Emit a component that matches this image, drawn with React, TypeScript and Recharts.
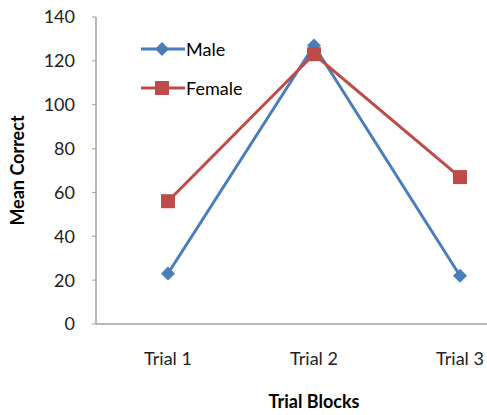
import { LineChart, Line, XAxis, YAxis } from 'recharts';

const categories = ['Trial 1', 'Trial 2', 'Trial 3'];
const maleValues = [23, 127, 22];
const femaleValues = [56, 123, 67];
const yTicks = [0, 20, 40, 60, 80, 100, 120, 140];

const data = categories.map((name, i) => ({ name, male: maleValues[i], female: femaleValues[i] }));

const BLUE = '#4A7EBB';
const RED = '#BE4B48';
const FONT = 'Lato, "Open Sans", sans-serif';

const Diamond = ({ cx, cy, fill }: any) => {
  if (cx == null || cy == null) return null;
  const s = 7;
  return <path d={`M${cx},${cy - s}L${cx + s},${cy}L${cx},${cy + s}L${cx - s},${cy}Z`} fill={fill} />;
};

const Square = ({ cx, cy, fill }: any) => {
  if (cx == null || cy == null) return null;
  const s = 7;
  return <rect x={cx - s} y={cy - s} width={s * 2} height={s * 2} fill={fill} />;
};

// legend drawn as an overlay so it doesn't shrink the plot area
const legendItems = [
  { label: 'Male', color: BLUE, Marker: Diamond, top: 39 },
  { label: 'Female', color: RED, Marker: Square, top: 78 },
];

const LegendBox = () => (
  <>
    {legendItems.map(({ label, color, Marker, top }) => (
      <div key={label} style={{ position: 'absolute', left: 139, top, height: 20, display: 'flex', alignItems: 'center' }}>
        <svg width={47} height={20}>
          <line x1={2} y1={10} x2={46} y2={10} stroke={color} strokeWidth={3} />
          <Marker cx={23} cy={10} fill={color} />
        </svg>
        <span style={{ fontFamily: FONT, fontSize: 18, color: '#000', lineHeight: '20px' }}>{label}</span>
      </div>
    ))}
  </>
);

export default function App() {
  return (
    <div style={{ position: 'fixed', left: 0, top: 0, width: 487, height: 415, overflow: 'hidden', background: '#fff' }}>
      <LineChart width={534} height={415} data={data} margin={{ top: 17, right: 2, left: 0, bottom: 0 }}>
        <XAxis
          dataKey="name"
          height={91}
          padding={{ left: 72, right: 72 }}
          tickLine={false}
          axisLine={{ stroke: '#A0A0A0', strokeWidth: 1.5 }}
          tick={{ fontSize: 18, fill: '#222', fontFamily: FONT }}
          tickMargin={22}
          label={{ value: 'Trial Blocks', position: 'insideBottom', offset: 7, fontSize: 18, fontWeight: 700, fill: '#000', fontFamily: FONT }}
        />
        <YAxis
          width={96}
          domain={[0, 140]}
          ticks={yTicks}
          interval={0}
          tickSize={4}
          tickMargin={17}
          tickLine={{ stroke: '#A0A0A0' }}
          axisLine={{ stroke: '#A0A0A0', strokeWidth: 1.5 }}
          tick={{ fontSize: 18, fill: '#222', fontFamily: FONT }}
          label={{ value: 'Mean Correct', angle: -90, position: 'insideLeft', offset: 18, fontSize: 18, fontWeight: 700, fill: '#000', fontFamily: FONT, style: { textAnchor: 'middle' } }}
        />
        <Line
          dataKey="male"
          stroke={BLUE}
          strokeWidth={3}
          dot={<Diamond fill={BLUE} />}
          activeDot={false}
          isAnimationActive={false}
        />
        <Line
          dataKey="female"
          stroke={RED}
          strokeWidth={3}
          dot={<Square fill={RED} />}
          activeDot={false}
          isAnimationActive={false}
        />
      </LineChart>
      <LegendBox />
    </div>
  );
}
